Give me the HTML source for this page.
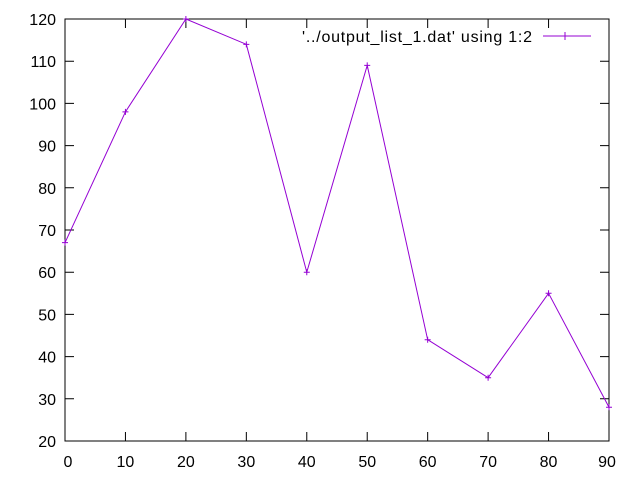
<!DOCTYPE html>
<html><head><meta charset="utf-8"><style>
body{margin:0;background:#fff;}
svg{display:block;font-family:"Liberation Sans",sans-serif;font-size:16px;}
</style></head><body>
<svg id="chart" width="640" height="480" xmlns="http://www.w3.org/2000/svg">
<rect x="0" y="0" width="640" height="480" fill="#fff"/>
<g id="axes"></g>
<g id="series"></g>
<g>
<text x="302" y="42" textLength="230" lengthAdjust="spacing" fill="#000">'../output_list_1.dat' using 1:2</text>
<line x1="543" y1="36" x2="591" y2="36" stroke="#9400d3" stroke-width="1"/>
<path d="M565,32v8M561,36h8" stroke="#9400d3"/>
</g>
</svg>
<script>
const xValues=[0,10,20,30,40,50,60,70,80,90];
const yValues=[67,98,120,114,60,109,44,35,55,28];
const xTicks=[0,10,20,30,40,50,60,70,80,90];
const yTicks=[20,30,40,50,60,70,80,90,100,110,120];
const L=65,R=609,T=19,B=441;
const xs=v=>L+(v-0)/(90-0)*(R-L);
const ys=v=>B-(v-20)/(120-20)*(B-T);
const NS="http://www.w3.org/2000/svg";
function mk(tag,attrs,parent){const e=document.createElementNS(NS,tag);for(const k in attrs)e.setAttribute(k,attrs[k]);parent.appendChild(e);return e;}
const ax=document.getElementById('axes');
const frame=mk('rect',{x:L,y:T,width:R-L,height:B-T,fill:'none',stroke:'#000','stroke-width':1},ax);


yTicks.forEach(v=>{const y=ys(v);
 const t=mk('path',{d:`M${L},${y}h9M${R},${y}h-9`,stroke:'#000'},ax);
 
 
 const l=mk('text',{x:56,y:y+6,'text-anchor':'end'},ax);l.textContent=v;
 
 
});
xTicks.forEach(v=>{const x=xs(v);
 const t=mk('path',{d:`M${x},${B}v-9M${x},${T}v9`,stroke:'#000'},ax);
 
 
 const anchorX=v===0?x+3:(v===90?x-2:x);
 const l=mk('text',{x:anchorX,y:467,'text-anchor':'middle'},ax);l.textContent=v;
 
 
});
const s=document.getElementById('series');
const pts=xValues.map((v,i)=>xs(v)+','+ys(yValues[i])).join(' ');
const pl=mk('polyline',{points:pts,fill:'none',stroke:'#9400d3','stroke-width':1},s);


xValues.forEach((v,i)=>{const x=xs(v),y=ys(yValues[i]);
 const m=mk('path',{d:`M${x},${y-3}v6M${x-3},${y}h6`,stroke:'#9400d3'},s);
 
 
});
</script>
</body></html>
